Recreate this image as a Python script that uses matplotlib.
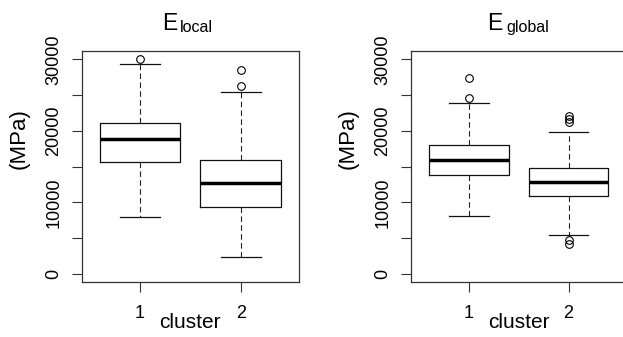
import matplotlib.pyplot as plt

plt.rcParams['font.family'] = ['Liberation Sans', 'DejaVu Sans']

clusters = ['1', '2']

# E_local box statistics (MPa)
local_low = [7900, 2300]
local_q1 = [15650, 9400]
local_med = [18800, 12750]
local_q3 = [21050, 15900]
local_high = [29400, 25400]
local_out = [[30000], [28500, 26200]]

# E_global box statistics (MPa)
global_low = [8100, 5450]
global_q1 = [13750, 10900]
global_med = [15850, 12850]
global_q3 = [17950, 14800]
global_high = [23900, 19800]
global_out = [[27350, 24550], [22100, 21600, 21250, 4680, 4190]]

yticks = [0, 5000, 10000, 15000, 20000, 25000, 30000]
ylabels = ['0', '', '10000', '', '20000', '', '30000']


def stats(low, q1, med, q3, high, out):
    res = []
    for i in range(len(med)):
        res.append(dict(whislo=low[i], q1=q1[i], med=med[i], q3=q3[i],
                        whishi=high[i], fliers=out[i]))
    return res


W, H = 623, 337
fig = plt.figure(figsize=(W / 100, H / 100), dpi=100)
ax1 = fig.add_axes([0.1311, 0.1623, 0.3488, 0.6872])
ax2 = fig.add_axes([0.6597, 0.1623, 0.3457, 0.6872])

panels = [
    (ax1, stats(local_low, local_q1, local_med, local_q3, local_high, local_out), 'local', 162, 180, -0.238),
    (ax2, stats(global_low, global_q1, global_med, global_q3, global_high, global_out), 'global', 487, 506, -0.241),
]

for ax, st, sub, xe, xs, ylx in panels:
    ax.bxp(st, positions=[1, 2], widths=0.8, capwidths=0.4,
           boxprops=dict(color='#111111', lw=0.9),
           medianprops=dict(color='black', lw=2.5, solid_capstyle='butt'),
           whiskerprops=dict(color='#222222', lw=0.8, linestyle=(0, (5, 3))),
           capprops=dict(color='#111111', lw=0.9),
           flierprops=dict(marker='o', mfc='none', mec='black', ms=5.5, mew=0.8))
    ax.set_xlim(0.42, 2.58)
    ax.set_ylim(-1200, 31200)
    ax.set_xticks([1, 2])
    ax.set_xticklabels(clusters, fontsize=13)
    ax.set_yticks(yticks)
    ax.set_yticklabels(ylabels, fontsize=13, rotation=90, va='center')
    ax.tick_params(length=7, width=0.8, color='#333333', pad=7)
    ax.tick_params(axis='x', pad=9)
    for s in ax.spines.values():
        s.set_color('#333333')
        s.set_linewidth(0.9)
    ax.set_xlabel('cluster', fontsize=15, labelpad=-6)
    ax.set_ylabel('(MPa)', fontsize=16)
    ax.yaxis.set_label_coords(ylx, 0.619)
    # title E with subscript
    fig.text(xe / W, 1 - 29.5 / H, 'E', fontsize=16.5, va='baseline', ha='left')
    fig.text(xs / W, 1 - 32 / H, sub, fontsize=11.5, va='baseline', ha='left')

fig.savefig('out.png', dpi=100)
